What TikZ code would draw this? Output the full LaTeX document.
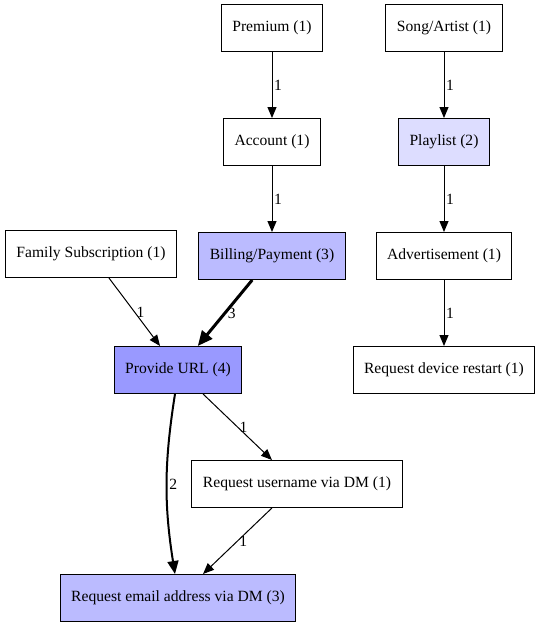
\documentclass[tikz,border=0pt]{standalone}
\usepackage{fontspec}
\setmainfont{Liberation Serif}
\usetikzlibrary{arrows.meta,positioning}
\definecolor{fillA}{RGB}{221,221,255}
\definecolor{fillB}{RGB}{187,187,255}
\definecolor{fillC}{RGB}{153,153,255}

\begin{document}
\begin{tikzpicture}[x=1pt, y=-1pt, line width=1pt,
  node distance=66pt and 20pt,
  box/.style={draw, font=\fontsize{15.6}{18}\selectfont,
    minimum height=47pt, inner xsep=11pt},
  lbl/.style={midway, right, inner sep=1.5pt, font=\fontsize{15.6}{18}\selectfont},
  >={Triangle[length=9pt 2,width=7pt 2]}]
\useasboundingbox (0,0) rectangle (542,625);
\node[box] (premium) at (272,28) {Premium (1)};
\node[box, below=of premium] (account) {Account (1)};
\node[box, fill=fillB, below=of account] (billing) {Billing/Payment (3)};
\node[box] (song) at (444,28) {Song/Artist (1)};
\node[box, fill=fillA, below=of song] (playlist) {Playlist (2)};
\node[box, below=of playlist] (advert) {Advertisement (1)};
\node[box, below=of advert] (restart) {Request device restart (1)};
\node[box] (family) at (91,254) {Family Subscription (1)};
\node[box, fill=fillC, below=of billing, xshift=-94pt] (url) {Provide URL (4)};
\node[box, below=of url, xshift=119pt] (username) {Request username via DM (1)};
\node[box, fill=fillB, below=of username, xshift=-119pt] (email) {Request email address via DM (3)};
\draw[->] (premium) -- (account) node[lbl] {1};
\draw[->] (account) -- (billing) node[lbl] {1};
\draw[->] (song) -- (playlist) node[lbl] {1};
\draw[->] (playlist) -- (advert) node[lbl] {1};
\draw[->] (advert) -- (restart) node[lbl] {1};
\draw[->] (family) -- (url) node[lbl] {1};
\draw[->, line width=3pt] (billing) -- (url) node[lbl] {3};
\draw[->] (url) -- (username) node[lbl] {1};
\draw[->] (username) -- (email) node[lbl] {1};
\draw[->, line width=2pt] ([xshift=-3pt]url.south) to[bend right=9]
  node[lbl] {2} ([xshift=-3pt]email.north);
\end{tikzpicture}
\end{document}
